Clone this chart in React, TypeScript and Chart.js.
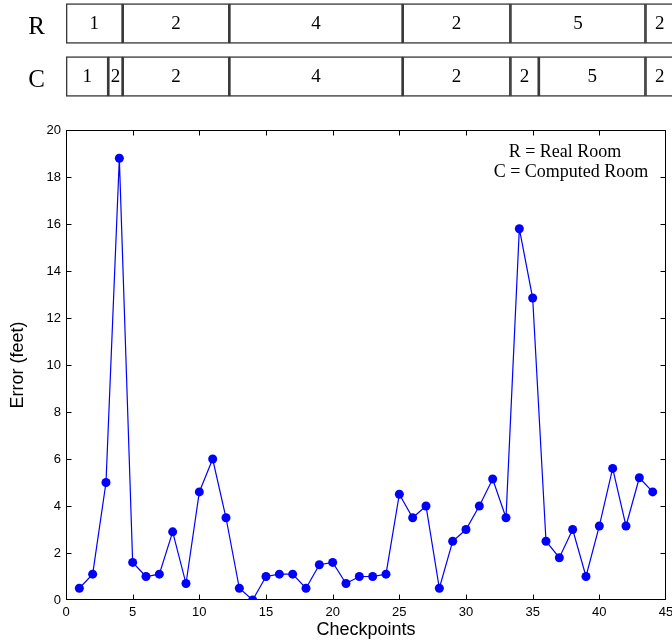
import React, { useEffect, useRef } from 'react';
import { Chart, registerables } from 'chart.js';

Chart.register(...registerables);

// ---- data ----
const CHECKPOINTS = [
  1, 2, 3, 4, 5, 6, 7, 8, 9, 10, 11, 12, 13, 14, 15, 16, 17, 18, 19, 20, 21, 22,
  23, 24, 25, 26, 27, 28, 29, 30, 31, 32, 33, 34, 35, 36, 37, 38, 39, 40, 41, 42, 43, 44,
];
const ERRORS = [
  0.5, 1.1, 5.0, 18.8, 1.6, 1.0, 1.1, 2.9, 0.7, 4.6,
  6.0, 3.5, 0.5, 0.0, 1.0, 1.1, 1.1, 0.5, 1.5, 1.6,
  0.7, 1.0, 1.0, 1.1, 4.5, 3.5, 4.0, 0.5, 2.5, 3.0,
  4.0, 5.15, 3.5, 15.8, 12.85, 2.5, 1.8, 3.0, 1.0, 3.15,
  5.6, 3.15, 5.2, 4.6,
];
const ROW_LABELS = ['R', 'C'];
const R_BOUNDS = [0, 4.25, 12.25, 25.25, 33.33, 43.46, 45.6];
const R_ROOMS = ['1', '2', '4', '2', '5', '2'];
const C_BOUNDS = [0, 3.17, 4.25, 12.25, 25.25, 33.33, 35.46, 43.46, 45.6];
const C_ROOMS = ['1', '2', '2', '4', '2', '2', '5', '2'];
const LEGEND_LINES = ['R = Real Room', 'C = Computed Room'];
const X_LABEL = 'Checkpoints';
const Y_LABEL = 'Error (feet)';

const SANS = '"Liberation Sans", Arial, sans-serif';
const SERIF = '"Liberation Serif", "Times New Roman", serif';

function buildSegments() {
  const segs: { x: number[]; y: string }[] = [];
  const names: string[] = [];
  for (let i = 0; i < R_ROOMS.length; i++) {
    segs.push({ x: [R_BOUNDS[i], R_BOUNDS[i + 1]], y: ROW_LABELS[0] });
    names.push(R_ROOMS[i]);
  }
  for (let i = 0; i < C_ROOMS.length; i++) {
    segs.push({ x: [C_BOUNDS[i], C_BOUNDS[i + 1]], y: ROW_LABELS[1] });
    names.push(C_ROOMS[i]);
  }
  return { segs, names };
}

export default function App() {
  const topRef = useRef<HTMLCanvasElement | null>(null);
  const mainRef = useRef<HTMLCanvasElement | null>(null);

  useEffect(() => {
    const { segs, names } = buildSegments();

    const segLabelPlugin = {
      id: 'segLabels',
      afterDatasetsDraw(chart: any) {
        const ctx = chart.ctx;
        const meta = chart.getDatasetMeta(0);
        ctx.save();
        ctx.fillStyle = '#000';
        ctx.font = `19px ${SERIF}`;
        ctx.textAlign = 'center';
        ctx.textBaseline = 'middle';
        meta.data.forEach((el: any, i: number) => {
          const p = el.getProps(['x', 'y', 'base'], true);
          ctx.fillText(names[i], (p.x + p.base) / 2, p.y + 1);
        });
        ctx.restore();
      },
    };

    const topChart = new Chart(topRef.current as HTMLCanvasElement, {
      type: 'bar',
      data: {
        labels: ROW_LABELS,
        datasets: [
          {
            data: segs as any,
            backgroundColor: 'rgba(0,0,0,0)',
            borderColor: '#3a3a3a',
            borderWidth: 1,
            borderSkipped: false,
            barThickness: 40,
          } as any,
        ],
      },
      options: {
        indexAxis: 'y',
        animation: false,
        responsive: false,
        layout: { padding: 0 },
        plugins: { legend: { display: false }, tooltip: { enabled: false } },
        scales: {
          x: { type: 'linear', min: 0, max: 45.45, display: false },
          y: {
            type: 'category',
            grid: { display: false, drawTicks: false },
            border: { display: false },
            ticks: { font: { family: SERIF, size: 25 }, color: '#000', padding: 21, labelOffset: 4 },
            afterFit: (s: any) => {
              s.width = 66;
              s.paddingTop = 0;
              s.paddingBottom = 0;
            },
          },
        },
      } as any,
      plugins: [segLabelPlugin],
    });

    const framePlugin = {
      id: 'frame',
      afterDraw(chart: any) {
        const ctx = chart.ctx;
        const a = chart.chartArea;
        const L = Math.round(a.left) + 0.5;
        const R = Math.round(a.right) - 0.5;
        const T = Math.round(a.top) + 0.5;
        const B = Math.round(a.bottom) - 0.5;
        ctx.save();
        ctx.strokeStyle = '#000';
        ctx.lineWidth = 1;
        ctx.strokeRect(L, T, R - L, B - T);
        const tl = 5;
        ctx.beginPath();
        const xs = chart.scales.x;
        xs.ticks.forEach((t: any) => {
          const px = Math.round(xs.getPixelForValue(t.value)) + 0.5;
          if (px <= L + 1 || px >= R - 1) return;
          ctx.moveTo(px, B);
          ctx.lineTo(px, B - tl);
          ctx.moveTo(px, T);
          ctx.lineTo(px, T + tl);
        });
        const ys = chart.scales.y;
        ys.ticks.forEach((t: any) => {
          const py = Math.round(ys.getPixelForValue(t.value)) + 0.5;
          if (py <= T + 1 || py >= B - 1) return;
          ctx.moveTo(L, py);
          ctx.lineTo(L + tl, py);
          ctx.moveTo(R, py);
          ctx.lineTo(R - tl, py);
        });
        ctx.stroke();

        ctx.fillStyle = '#000';
        ctx.font = `18px ${SERIF}`;
        ctx.textAlign = 'center';
        ctx.textBaseline = 'alphabetic';
        ctx.fillText(LEGEND_LINES[0], a.right - 101, a.top + 27);
        ctx.fillText(LEGEND_LINES[1], a.right - 95, a.top + 47);
        ctx.restore();
      },
    };

    const mainChart = new Chart(mainRef.current as HTMLCanvasElement, {
      type: 'line',
      data: {
        datasets: [
          {
            data: CHECKPOINTS.map((c, i) => ({ x: c, y: ERRORS[i] })),
            borderColor: '#0000ff',
            backgroundColor: '#0000ff',
            borderWidth: 1.2,
            pointRadius: 4.5,
            pointBorderWidth: 0,
            pointBackgroundColor: '#0000ff',
            tension: 0,
          },
        ],
      },
      options: {
        animation: false,
        responsive: false,
        layout: { padding: { top: 130, right: 6, left: 0, bottom: 0 } },
        plugins: { legend: { display: false }, tooltip: { enabled: false } },
        scales: {
          x: {
            type: 'linear',
            min: 0,
            max: 45,
            ticks: { stepSize: 5, font: { family: SANS, size: 13 }, color: '#000', padding: 5, maxRotation: 0 },
            grid: { display: false, drawTicks: false },
            border: { display: false },
            title: {
              display: true,
              text: X_LABEL,
              font: { family: SANS, size: 18 },
              color: '#000',
              padding: { top: 2, bottom: 2 },
            },
            afterFit: (s: any) => {
              s.height = 43;
              s.paddingLeft = 0;
              s.paddingRight = 0;
            },
          },
          y: {
            type: 'linear',
            min: 0,
            max: 20,
            ticks: { stepSize: 2, font: { family: SANS, size: 13 }, color: '#000', padding: 5 },
            grid: { display: false, drawTicks: false },
            border: { display: false },
            title: {
              display: true,
              text: Y_LABEL,
              font: { family: SANS, size: 18 },
              color: '#000',
              padding: { top: 7, bottom: 7 },
            },
            afterFit: (s: any) => {
              s.width = 66;
              s.paddingTop = 0;
              s.paddingBottom = 0;
            },
          },
        },
      } as any,
      plugins: [framePlugin],
    });

    return () => {
      topChart.destroy();
      mainChart.destroy();
    };
  }, []);

  return (
    <div style={{ position: 'absolute', left: 0, top: 0, width: 672, height: 643, overflow: 'hidden', background: '#fff' }}>
      <canvas ref={mainRef} width={672} height={643} style={{ position: 'absolute', left: 0, top: 0 }} />
      <canvas ref={topRef} width={672} height={106} style={{ position: 'absolute', left: 0, top: -3 }} />
    </div>
  );
}
